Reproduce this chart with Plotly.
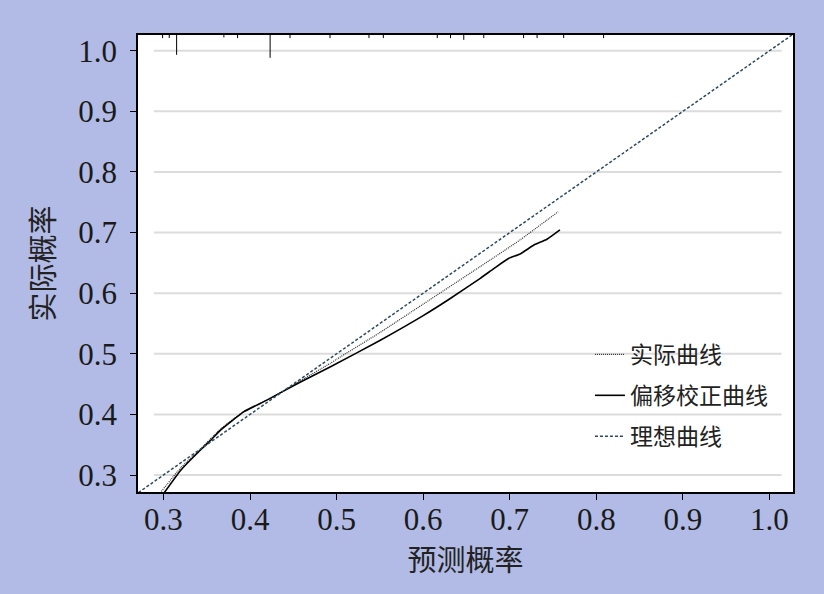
import plotly.graph_objects as go

# ---- data ----
apparent_x = [0.296, 0.320, 0.340, 0.366, 0.393, 0.420, 0.455, 0.493, 0.500, 0.550, 0.600, 0.666, 0.712, 0.756]
apparent_y = [0.270, 0.312, 0.339, 0.376, 0.405, 0.424, 0.453, 0.4845, 0.491, 0.535, 0.582, 0.644, 0.688, 0.7345]

corrected_x = [0.298, 0.320, 0.339, 0.353, 0.366, 0.378, 0.393, 0.420, 0.455, 0.493, 0.550, 0.600, 0.630, 0.666, 0.682, 0.699, 0.712, 0.728, 0.743, 0.758]
corrected_y = [0.265, 0.308, 0.336, 0.355, 0.374, 0.388, 0.4045, 0.424, 0.451, 0.4787, 0.522, 0.563, 0.590, 0.6246, 0.641, 0.6576, 0.6647, 0.6795, 0.689, 0.7043]

ideal_x = [0.2, 1.1]
ideal_y = [0.2, 1.1]

rug_x = [0.299, 0.3067, 0.3152, 0.3698, 0.3856, 0.4232, 0.4462, 0.4924, 0.5374, 0.554,
         0.6163, 0.6316, 0.6469, 0.670, 0.716, 0.7316, 0.7623, 0.8084]
rug_h = [1.0, 1.0, 6.5, 0.8, 1.0, 7.5, 1.0, 1.0, 1.0, 1.0,
         1.0, 1.0, 1.6, 1.0, 1.0, 1.0, 1.0, 1.0]

tick_vals = [0.3, 0.4, 0.5, 0.6, 0.7, 0.8, 0.9, 1.0]
tick_text = ["0.3", "0.4", "0.5", "0.6", "0.7", "0.8", "0.9", "1.0"]
grid_span = [0.289, 1.014]

x_range = [0.2706, 1.0272]
y_range = [0.272, 1.026]

label_x = "预测概率"
label_y = "实际概率"
names = ["实际曲线", "偏移校正曲线", "理想曲线"]

BG = "#b1bbe5"

# ---- figure ----
fig = go.Figure()

rx, ry = [], []
for xv, hv in zip(rug_x, rug_h):
    rx += [xv, xv, None]
    ry += [0, hv, None]
fig.add_trace(go.Scatter(x=rx, y=ry, yaxis="y2", mode="lines",
                         line=dict(color="black", width=1), showlegend=False, hoverinfo="skip"))

fig.add_trace(go.Scatter(x=apparent_x, y=apparent_y, mode="lines", name=names[0],
                         legendgroup="a", line=dict(color="#333333", width=1.2, dash="1px,1px",
                                                    shape="spline", smoothing=0.5)))
fig.add_trace(go.Scatter(x=corrected_x, y=corrected_y, mode="lines", name=names[1],
                         legendgroup="b", line=dict(color="black", width=1.6,
                                                    shape="spline", smoothing=0.5)))
fig.add_trace(go.Scatter(x=ideal_x, y=ideal_y, mode="lines", name=names[2],
                         legendgroup="c", line=dict(color="#2b4a5e", width=1.5, dash="3px,2px")))

for gy in tick_vals:
    fig.add_shape(type="line", x0=grid_span[0], x1=grid_span[1], y0=gy, y1=gy,
                  xref="x", yref="y", layer="below", line=dict(color="#dcdcdc", width=2))

tickfont = dict(family="Liberation Serif", size=31, color="#1a1a1a")
titlefont = dict(family="Noto Sans CJK SC", size=29, color="#222222")

fig.update_layout(
    width=824, height=594,
    paper_bgcolor=BG, plot_bgcolor="white",
    margin=dict(l=138, r=31, t=35, b=102),
    xaxis=dict(range=x_range, tickvals=tick_vals, ticktext=tick_text, showgrid=False,
               zeroline=False, showline=True, linecolor="black", linewidth=1.5, mirror=True,
               ticks="outside", ticklen=6, tickcolor="black", tickfont=tickfont,
               ticklabelstandoff=-7,
               title=dict(text=label_x, font=titlefont, standoff=0)),
    yaxis=dict(range=y_range, tickvals=tick_vals, ticktext=tick_text, showgrid=False,
               zeroline=False, showline=True, linecolor="black", linewidth=1.5, mirror=True,
               ticks="outside", ticklen=6, tickcolor="black", tickfont=tickfont,
               ticklabelstandoff=7,
               title=dict(text=label_y, font=titlefont, standoff=15)),
    yaxis2=dict(range=[150, 0], overlaying="y", visible=False),
    legend=dict(x=0.69, y=0.348, xanchor="left", yanchor="top", bgcolor="rgba(0,0,0,0)",
                font=dict(family="Noto Sans CJK SC", size=23, color="#222222"),
                tracegroupgap=8, itemwidth=30),
    showlegend=True,
)

fig.write_html("out.html", config={"displayModeBar": False},
               post_script="document.body.style.margin='0';document.body.style.background='%s';" % BG)
